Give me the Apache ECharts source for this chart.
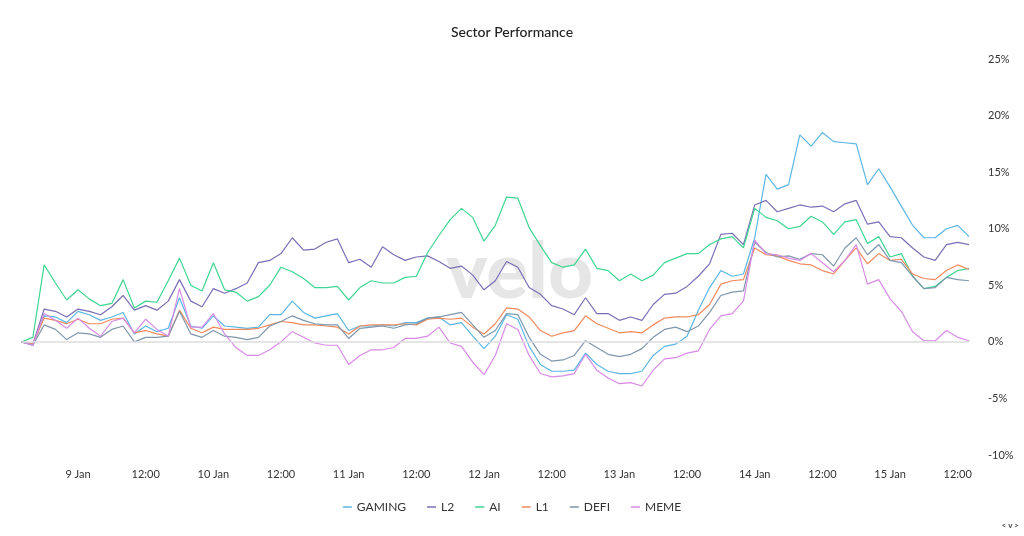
<!DOCTYPE html>
<html>
<head>
<meta charset="utf-8">
<script src="https://cdn.jsdelivr.net/npm/echarts@6/dist/echarts.min.js"></script>
<style>
html,body{margin:0;padding:0;background:#fff;}
#chart{width:1024px;height:536px;}
</style>
</head>
<body>
<div id="chart"></div>
<script>
// 2-hourly samples from 8 Jan 14:00 to 15 Jan 14:00
const startTime = new Date(2025, 0, 8, 14, 0, 0).getTime();
const stepMs = 2 * 3600 * 1000;
const seriesNames = ['GAMING', 'L2', 'AI', 'L1', 'DEFI', 'MEME'];
const yTicks = [-10, -5, 0, 5, 10, 15, 20, 25];

const gaming = [0.0,-0.3,2.3,2.2,1.7,2.7,2.4,1.9,2.2,2.6,0.7,1.4,0.9,1.2,3.9,1.4,1.2,2.3,1.4,1.3,
  1.2,1.3,2.4,2.4,3.6,2.6,2.1,2.3,2.5,1.0,1.4,1.4,1.5,1.4,1.7,1.7,2.1,2.2,1.5,1.7,
  0.5,-0.6,0.5,2.4,2.0,-0.4,-2.0,-2.6,-2.6,-2.5,-1.0,-2.0,-2.6,-2.8,-2.8,-2.6,-1.2,-0.4,-0.2,0.5,
  2.8,4.8,6.3,5.8,6.0,9.2,14.8,13.5,13.9,18.3,17.3,18.5,17.7,17.6,17.5,13.9,15.3,13.7,12.0,10.3,
  9.2,9.2,10.0,10.3,9.3];
const l2 = [0.0,-0.2,2.9,2.7,2.2,2.9,2.7,2.4,3.1,4.1,2.8,3.2,2.8,3.6,5.5,3.6,3.1,4.7,4.3,4.7,
  5.2,7.0,7.2,7.8,9.2,8.1,8.2,8.8,9.1,7.0,7.3,6.6,8.4,7.7,7.2,7.5,7.6,7.1,6.5,6.7,
  5.9,4.6,5.4,7.1,6.6,4.8,4.2,3.2,2.9,2.4,3.9,2.5,2.5,1.9,2.2,1.9,3.3,4.2,4.3,4.9,
  5.8,6.9,9.5,9.6,8.6,12.1,12.5,11.5,11.8,12.1,11.9,12.0,11.5,12.2,12.5,10.4,10.6,9.3,9.2,8.3,
  7.5,7.2,8.6,8.8,8.6];
const ai = [0.0,0.4,6.8,5.2,3.7,4.6,3.8,3.2,3.4,5.5,3.0,3.6,3.5,5.4,7.4,5.0,4.5,7.0,4.6,4.4,
  3.6,4.0,5.0,6.6,6.2,5.6,4.8,4.8,4.9,3.7,4.8,5.4,5.2,5.2,5.7,5.8,7.9,9.4,10.8,11.8,
  11.0,8.9,10.3,12.8,12.7,10.1,8.5,7.0,6.6,6.8,8.2,6.5,6.3,5.4,6.0,5.4,5.9,7.0,7.4,7.8,
  7.8,8.6,9.1,9.3,8.3,11.8,11.0,10.7,10.0,10.2,11.1,10.6,9.5,10.6,10.8,8.7,9.3,7.5,7.8,5.8,
  4.7,4.9,5.7,6.3,6.5];
const l1 = [0.0,-0.2,2.1,1.9,1.6,2.0,1.6,1.6,2.0,2.1,0.8,1.0,0.7,0.5,2.8,1.2,0.8,1.3,1.1,1.1,
  1.1,1.2,1.5,1.8,1.7,1.5,1.5,1.4,1.3,0.7,1.4,1.5,1.5,1.5,1.6,1.5,2.0,2.1,2.0,2.1,
  1.3,0.7,1.6,3.0,2.9,2.2,1.0,0.5,0.8,1.0,2.3,1.6,1.2,0.8,0.9,0.8,1.5,2.1,2.2,2.2,
  2.4,3.3,5.1,5.4,5.5,8.3,7.7,7.6,7.2,6.9,6.8,6.3,6.0,7.2,8.3,6.9,7.8,7.2,7.3,6.0,
  5.6,5.5,6.3,6.8,6.4];
const defi = [0.0,-0.3,1.5,1.1,0.2,0.8,0.7,0.4,1.1,1.4,0.0,0.4,0.4,0.5,2.7,0.7,0.4,1.0,0.5,0.4,
  0.2,0.4,1.4,1.8,2.3,1.9,1.6,1.5,1.5,0.3,1.2,1.3,1.4,1.2,1.5,1.6,2.1,2.2,2.4,2.6,
  1.5,0.4,1.0,2.5,2.4,0.4,-1.1,-1.7,-1.6,-1.2,0.1,-0.5,-1.1,-1.3,-1.1,-0.6,0.4,1.1,1.3,0.9,
  1.4,2.6,4.1,4.4,4.5,8.8,7.9,7.5,7.6,7.3,7.8,7.7,6.7,8.3,9.2,7.7,8.6,7.2,7.0,5.8,
  4.7,4.8,5.7,5.5,5.4];
const meme = [0.0,-0.3,2.5,1.9,1.2,2.1,1.2,0.5,1.8,2.1,0.8,2.0,1.1,0.5,4.7,1.3,1.3,2.5,0.7,-0.5,
  -1.2,-1.2,-0.7,0.0,0.9,0.4,-0.1,-0.3,-0.3,-2.0,-1.2,-0.7,-0.7,-0.5,0.3,0.3,0.5,1.3,-0.1,-0.4,
  -1.8,-2.9,-1.2,1.6,1.1,-1.2,-2.8,-3.1,-3.0,-2.8,-1.1,-2.5,-3.2,-3.7,-3.6,-3.9,-2.5,-1.5,-1.4,-1.0,
  -0.8,1.1,2.3,2.5,3.6,9.0,7.8,7.7,7.4,7.2,7.8,7.0,6.2,7.2,8.6,5.1,5.5,3.8,2.7,0.9,
  0.1,0.1,1.0,0.4,0.1];

const seriesValues = [gaming, l2, ai, l1, defi, meme];
const colors = ['#5cb6e4', '#7a6fb6', '#3fd592', '#f08a5d', '#7f97ac', '#d88be6'];
const times = gaming.map((_, i) => startTime + i * stepMs);
const months = ['Jan','Feb','Mar','Apr','May','Jun','Jul','Aug','Sep','Oct','Nov','Dec'];
const pad = n => (n < 10 ? '0' : '') + n;

const FONT = 'Lato, "Open Sans", sans-serif';
const chart = echarts.init(document.getElementById('chart'), null, {renderer: 'canvas'});

const series = seriesNames.map((name, k) => ({
  name: name,
  type: 'line',
  data: times.map((t, i) => [t, seriesValues[k][i]]),
  showSymbol: false,
  symbol: 'none',
  lineStyle: {width: 1.2, color: colors[k]},
  itemStyle: {color: colors[k]},
  z: 3,
  markLine: k === 0 ? {
    silent: true,
    symbol: ['none', 'none'],
    label: {show: false},
    lineStyle: {color: '#dcdcdc', width: 1.5, type: 'solid'},
    data: [{yAxis: 0}]
  } : undefined
}));

chart.setOption({
  animation: false,
  backgroundColor: '#ffffff',
  title: {
    text: 'Sector Performance',
    left: 'center',
    top: 20,
    textStyle: {fontFamily: FONT, fontSize: 14, fontWeight: 500, color: '#222'}
  },
  legend: {
    data: seriesNames,
    top: 496,
    left: 'center',
    icon: 'rect',
    itemWidth: 9,
    itemHeight: 1.5,
    itemGap: 21,
    textStyle: {fontFamily: FONT, fontSize: 12, color: '#333'}
  },
  grid: {left: 21.6, right: 55, top: 59, bottom: 81, containLabel: false},
  xAxis: {
    type: 'time',
    min: times[0],
    max: times[times.length - 1],
    splitNumber: 14,
    axisLine: {show: false},
    axisTick: {show: false},
    splitLine: {show: false},
    axisLabel: {
      margin: 14,
      fontFamily: FONT,
      fontSize: 11,
      color: '#333',
      showMinLabel: false,
      showMaxLabel: false,
      hideOverlap: false,
      formatter: function (v) {
        const d = new Date(v);
        if (d.getMinutes() !== 0) return '';
        if (d.getHours() === 0) return d.getDate() + ' ' + months[d.getMonth()];
        if (d.getHours() === 12) return '12:00';
        return '';
      }
    }
  },
  yAxis: {
    type: 'value',
    position: 'right',
    min: yTicks[0],
    max: yTicks[yTicks.length - 1],
    interval: 5,
    axisLine: {show: false},
    axisTick: {show: false},
    splitLine: {show: false},
    axisLabel: {
      margin: 19,
      fontFamily: FONT,
      fontSize: 11,
      color: '#333',
      formatter: '{value}%'
    }
  },
  graphic: [
    {
      type: 'text',
      left: 446,
      top: 234,
      z: 0,
      silent: true,
      style: {
        text: 'velo',
        font: '900 78px Lato, sans-serif',
        fill: '#e6e6e6'
      }
    },
    {
      type: 'text',
      right: 5,
      top: 521,
      style: {
        text: '< v >',
        font: 'bold 8px Lato, sans-serif',
        fill: '#444'
      }
    }
  ],
  series: series
});
</script>
</body>
</html>
